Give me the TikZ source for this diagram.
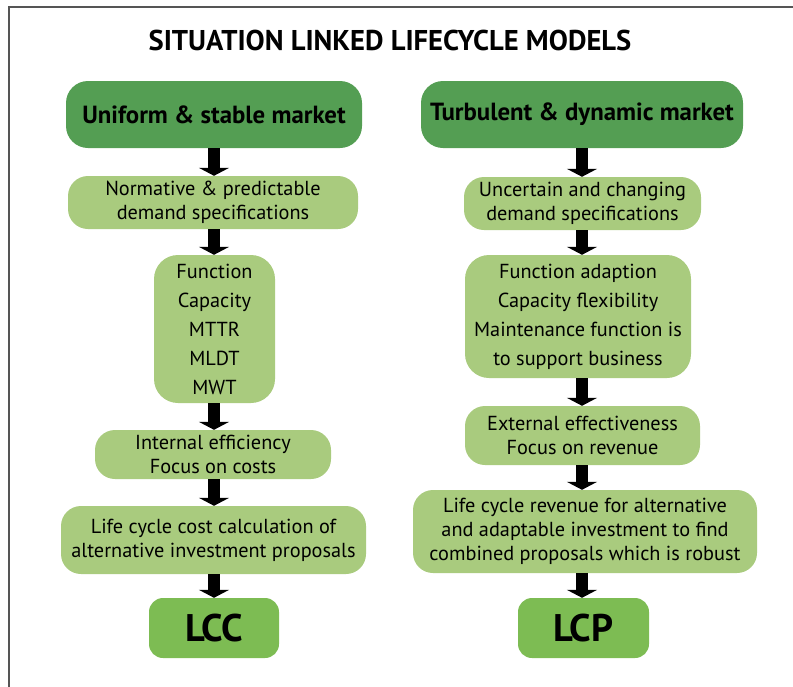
\documentclass[tikz,border=0pt]{standalone}
\usepackage{fontspec}
\setmainfont{PT Sans}
\usetikzlibrary{arrows.meta}
\definecolor{darkg}{HTML}{549E53}
\definecolor{lightg}{HTML}{A9CB7E}
\definecolor{midg}{HTML}{7DBC53}
\definecolor{framec}{HTML}{555555}
\tikzset{
  x=1pt,y=1pt,
  headbox/.style={fill=darkg, rounded corners=22pt, inner sep=0pt, align=center,
    font=\fontsize{24.8}{28}\selectfont\bfseries},
  stepbox/.style={fill=lightg, rounded corners=20pt, inner sep=0pt, align=center,
    font=\fontsize{20.3}{24}\selectfont},
  tallbox/.style={fill=lightg, rounded corners=24pt, inner sep=0pt, align=center,
    font=\fontsize{20.3}{29}\selectfont},
  endbox/.style={fill=midg, rounded corners=14pt, inner sep=0pt, align=center,
    font=\fontsize{38.5}{42}\selectfont\bfseries},
  blockarrow/.style={draw=black, line width=12pt, -{Triangle[width=30pt,length=8pt]}},
}
\newcommand{\boxat}[6]{\node[#1, minimum width=#4, minimum height=#5] (#2) at (#3) {#6};}
\begin{document}
\begin{tikzpicture}
\useasboundingbox (0,0) rectangle (793,-686);
\draw[framec, line width=1.6pt] (9,-690) -- (9,-7) -- (800,-7);
\node[anchor=base, font=\fontsize{28.6}{32}\selectfont\bfseries] (title) at (390,-50) {SITUATION LINKED LIFECYCLE MODELS};
% left column
\boxat{headbox}{L1}{214,-114.5}{296pt}{67pt}{Uniform \& stable market}
\boxat{stepbox}{L2}{213,-202.5}{290pt}{53pt}{Normative \& predictable\\demand specifications}
\boxat{tallbox}{L3}{214.5,-329}{121pt}{148pt}{Function\\Capacity\\MTTR\\MLDT\\MWT}
\boxat{stepbox}{L4}{213,-454.5}{236pt}{49pt}{Internal efficiency\\Focus on costs}
\boxat{stepbox}{L5}{213.5,-540}{305pt}{68pt}{Life cycle cost calculation of\\alternative investment proposals}
\boxat{endbox}{L6}{214,-628}{130pt}{60pt}{LCC}
% right column
\boxat{headbox}{R1}{582,-114.5}{322pt}{67pt}{Turbulent \& dynamic market}
\boxat{stepbox}{R2}{582.5,-203.5}{237pt}{53pt}{Uncertain and changing\\demand specifications}
\boxat{tallbox}{R3}{578,-316.5}{226pt}{123pt}{Function adaption\\Capacity flexibility\\Maintenance function is\\to support business}
\boxat{stepbox}{R4}{582.5,-435.5}{235pt}{59pt}{External effectiveness\\Focus on revenue}
\boxat{stepbox}{R5}{585,-531.5}{344pt}{83pt}{Life cycle revenue for alternative\\and adaptable investment to find\\combined proposals which is robust}
\boxat{endbox}{R6}{583.5,-628}{131pt}{60pt}{LCP}
% arrows
\coordinate (lx) at (214,0);
\coordinate (rx) at (582,0);
\foreach \a/\b in {L1/L2,L2/L3,L3/L4,L4/L5,L5/L6}{
  \draw[blockarrow] (lx |- \a.south) -- (lx |- \b.north);
}
\foreach \a/\b in {R1/R2,R2/R3,R3/R4,R4/R5,R5/R6}{
  \draw[blockarrow] (rx |- \a.south) -- (rx |- \b.north);
}
\end{tikzpicture}
\end{document}
